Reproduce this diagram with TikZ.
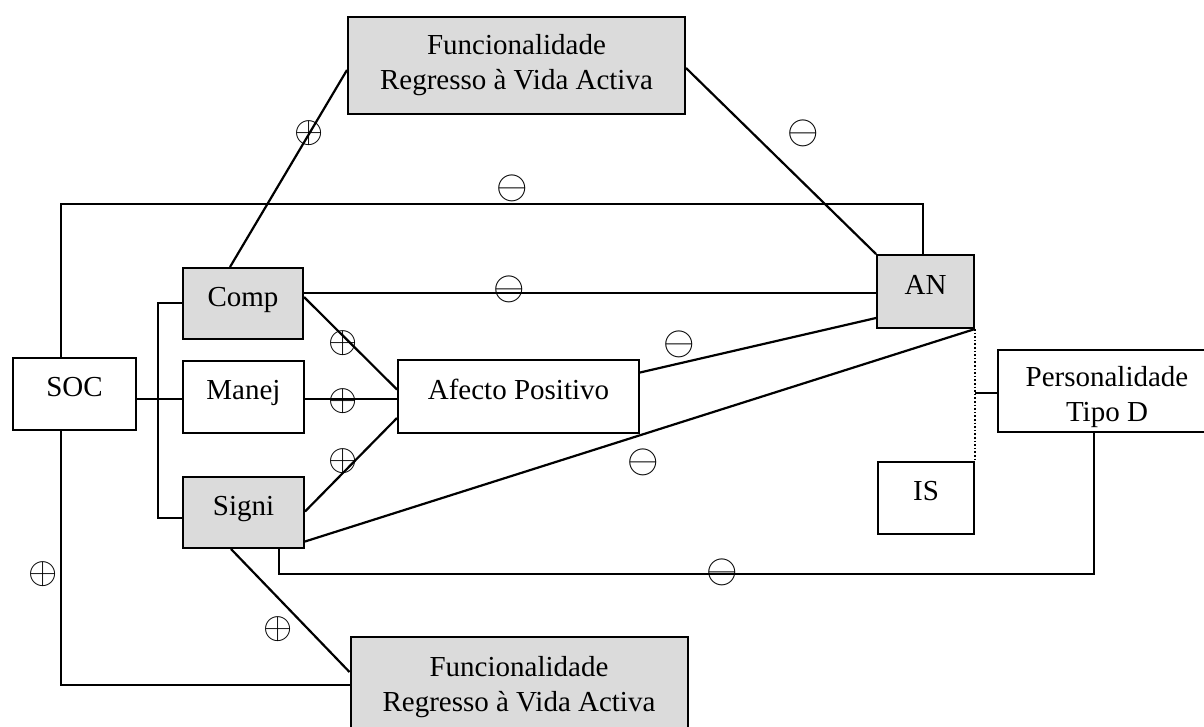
\documentclass[tikz,border=0pt]{standalone}
\usepackage{graphicx}
\usepackage{fontspec}
\setmainfont{Liberation Serif}
\usetikzlibrary{calc}
\newcommand{\myoplus}{\scalebox{3.75}{$\oplus$}}
\newcommand{\myominus}{\scalebox{4.05}{$\ominus$}}
\begin{document}
\begin{tikzpicture}[x=1pt,y=-1pt,
  box/.style={draw,line width=2pt,inner sep=0pt,font=\fontsize{29}{35}\selectfont,align=center},
  gbox/.style={box,fill=black!14},
  one/.style={text height=20pt,text depth=15pt},
  conn/.style={line width=2.2pt},
  thinl/.style={line width=1.6pt},
  sign/.style={inner sep=0pt,font=\normalsize}]
\useasboundingbox (0,0) rectangle (1204,726);
\fill[white] (0,0) rectangle (1204,726);

% boxes
\node[gbox,minimum width=337,minimum height=97] (top) at (516.5,65.5) {Funcionalidade\\Regresso à Vida Activa};
\node[gbox,minimum width=337,minimum height=100] (bot) at (519,687) {Funcionalidade\\Regresso à Vida Activa};
\node[box,one,minimum width=123,minimum height=72] (soc) at (74.5,394) {SOC};
\node[gbox,one,minimum width=120,minimum height=71] (comp) at (243,303.5) {Comp};
\node[box,one,minimum width=121,minimum height=72] (manej) at (243.5,397) {Manej};
\node[gbox,one,minimum width=121,minimum height=71] (signi) at (243.5,512.5) {Signi};
\node[box,one,minimum width=241,minimum height=73] (afecto) at (518.5,396.5) {Afecto Positivo};
\node[gbox,one,minimum width=97,minimum height=73] (an) at (925.5,291.5) {AN};
\node[box,one,minimum width=96,minimum height=72] (is) at (926,498) {IS};
\node[box,minimum width=218,minimum height=82,
  label={[font=\fontsize{29}{35}\selectfont,align=center,inner sep=0pt,yshift=-6pt]center:Personalidade\\Tipo D}] (pers) at (1107,391) {};

% connectors
\draw[conn] ($(comp.north west)+(48,0)$) -- ($(top.west)+(0,4.5)$);
\draw[conn] ($(top.east)+(0,2.5)$) -- (an.north west);
\draw[thinl] ($(soc.north west)+(49,0)$) |- ($(an.north)+(-2.5,-50)$) -- ($(an.north)+(-2.5,0)$);
\draw[thinl] ($(soc.south west)+(49,0)$) |- ($(bot.west)+(0,-2)$);
\draw[thinl] ($(soc.east)+(0,5)$) -- ($(manej.west)+(0,2)$);
\draw[thinl] ($(comp.west)+(0,-0.5)$) -- ++(-24,0) |- ($(signi.west)+(0,5.5)$);
\draw[conn] ($(comp.east)+(0,-10.5)$) -- ($(an.west)+(0,1.5)$);
\draw[conn] ($(comp.east)+(0,-6.5)$) -- ($(afecto.west)+(0,-7)$);
\draw[thinl] ($(manej.east)+(0,2)$) -- ($(afecto.west)+(0,2.5)$);
\draw[conn] ($(signi.east)+(0,-1)$) -- ($(afecto.west)+(0,21.5)$);
\draw[conn] ($(signi.east)+(0,29)$) -- (an.south east);
\draw[conn] ($(afecto.east)+(0,-24)$) -- ($(an.west)+(0,26.5)$);
\draw[conn] ($(signi.south west)+(97,0)$) -- ++(0,25) -| ($(pers.south)+(-13,0)$);
\draw[conn] ($(signi.south west)+(49,0)$) -- ($(bot.west)+(0,-15)$);
\draw[line width=1.6pt,dotted] (an.south east) -- (is.north east);
\coordinate (dj) at (an.south east |- pers.west);
\draw[thinl] ($(dj)+(0,2)$) -- ($(pers.west)+(0,2)$);

% signs
\node[sign] (p1) at (309,133) {\myoplus};
\node[sign] (m1) at (803,133) {\myominus};
\node[sign] (m2) at (512,188) {\myominus};
\node[sign] (m3) at (509,289) {\myominus};
\node[sign] (p2) at (343,343) {\myoplus};
\node[sign] (p3) at (343,401) {\myoplus};
\node[sign] (p4) at (343,461) {\myoplus};
\node[sign] (m4) at (679,344) {\myominus};
\node[sign] (m5) at (643,462) {\myominus};
\node[sign] (m6) at (722,572) {\myominus};
\node[sign] (p5) at (43,574) {\myoplus};
\node[sign] (p6) at (278,629) {\myoplus};
\end{tikzpicture}
\end{document}
